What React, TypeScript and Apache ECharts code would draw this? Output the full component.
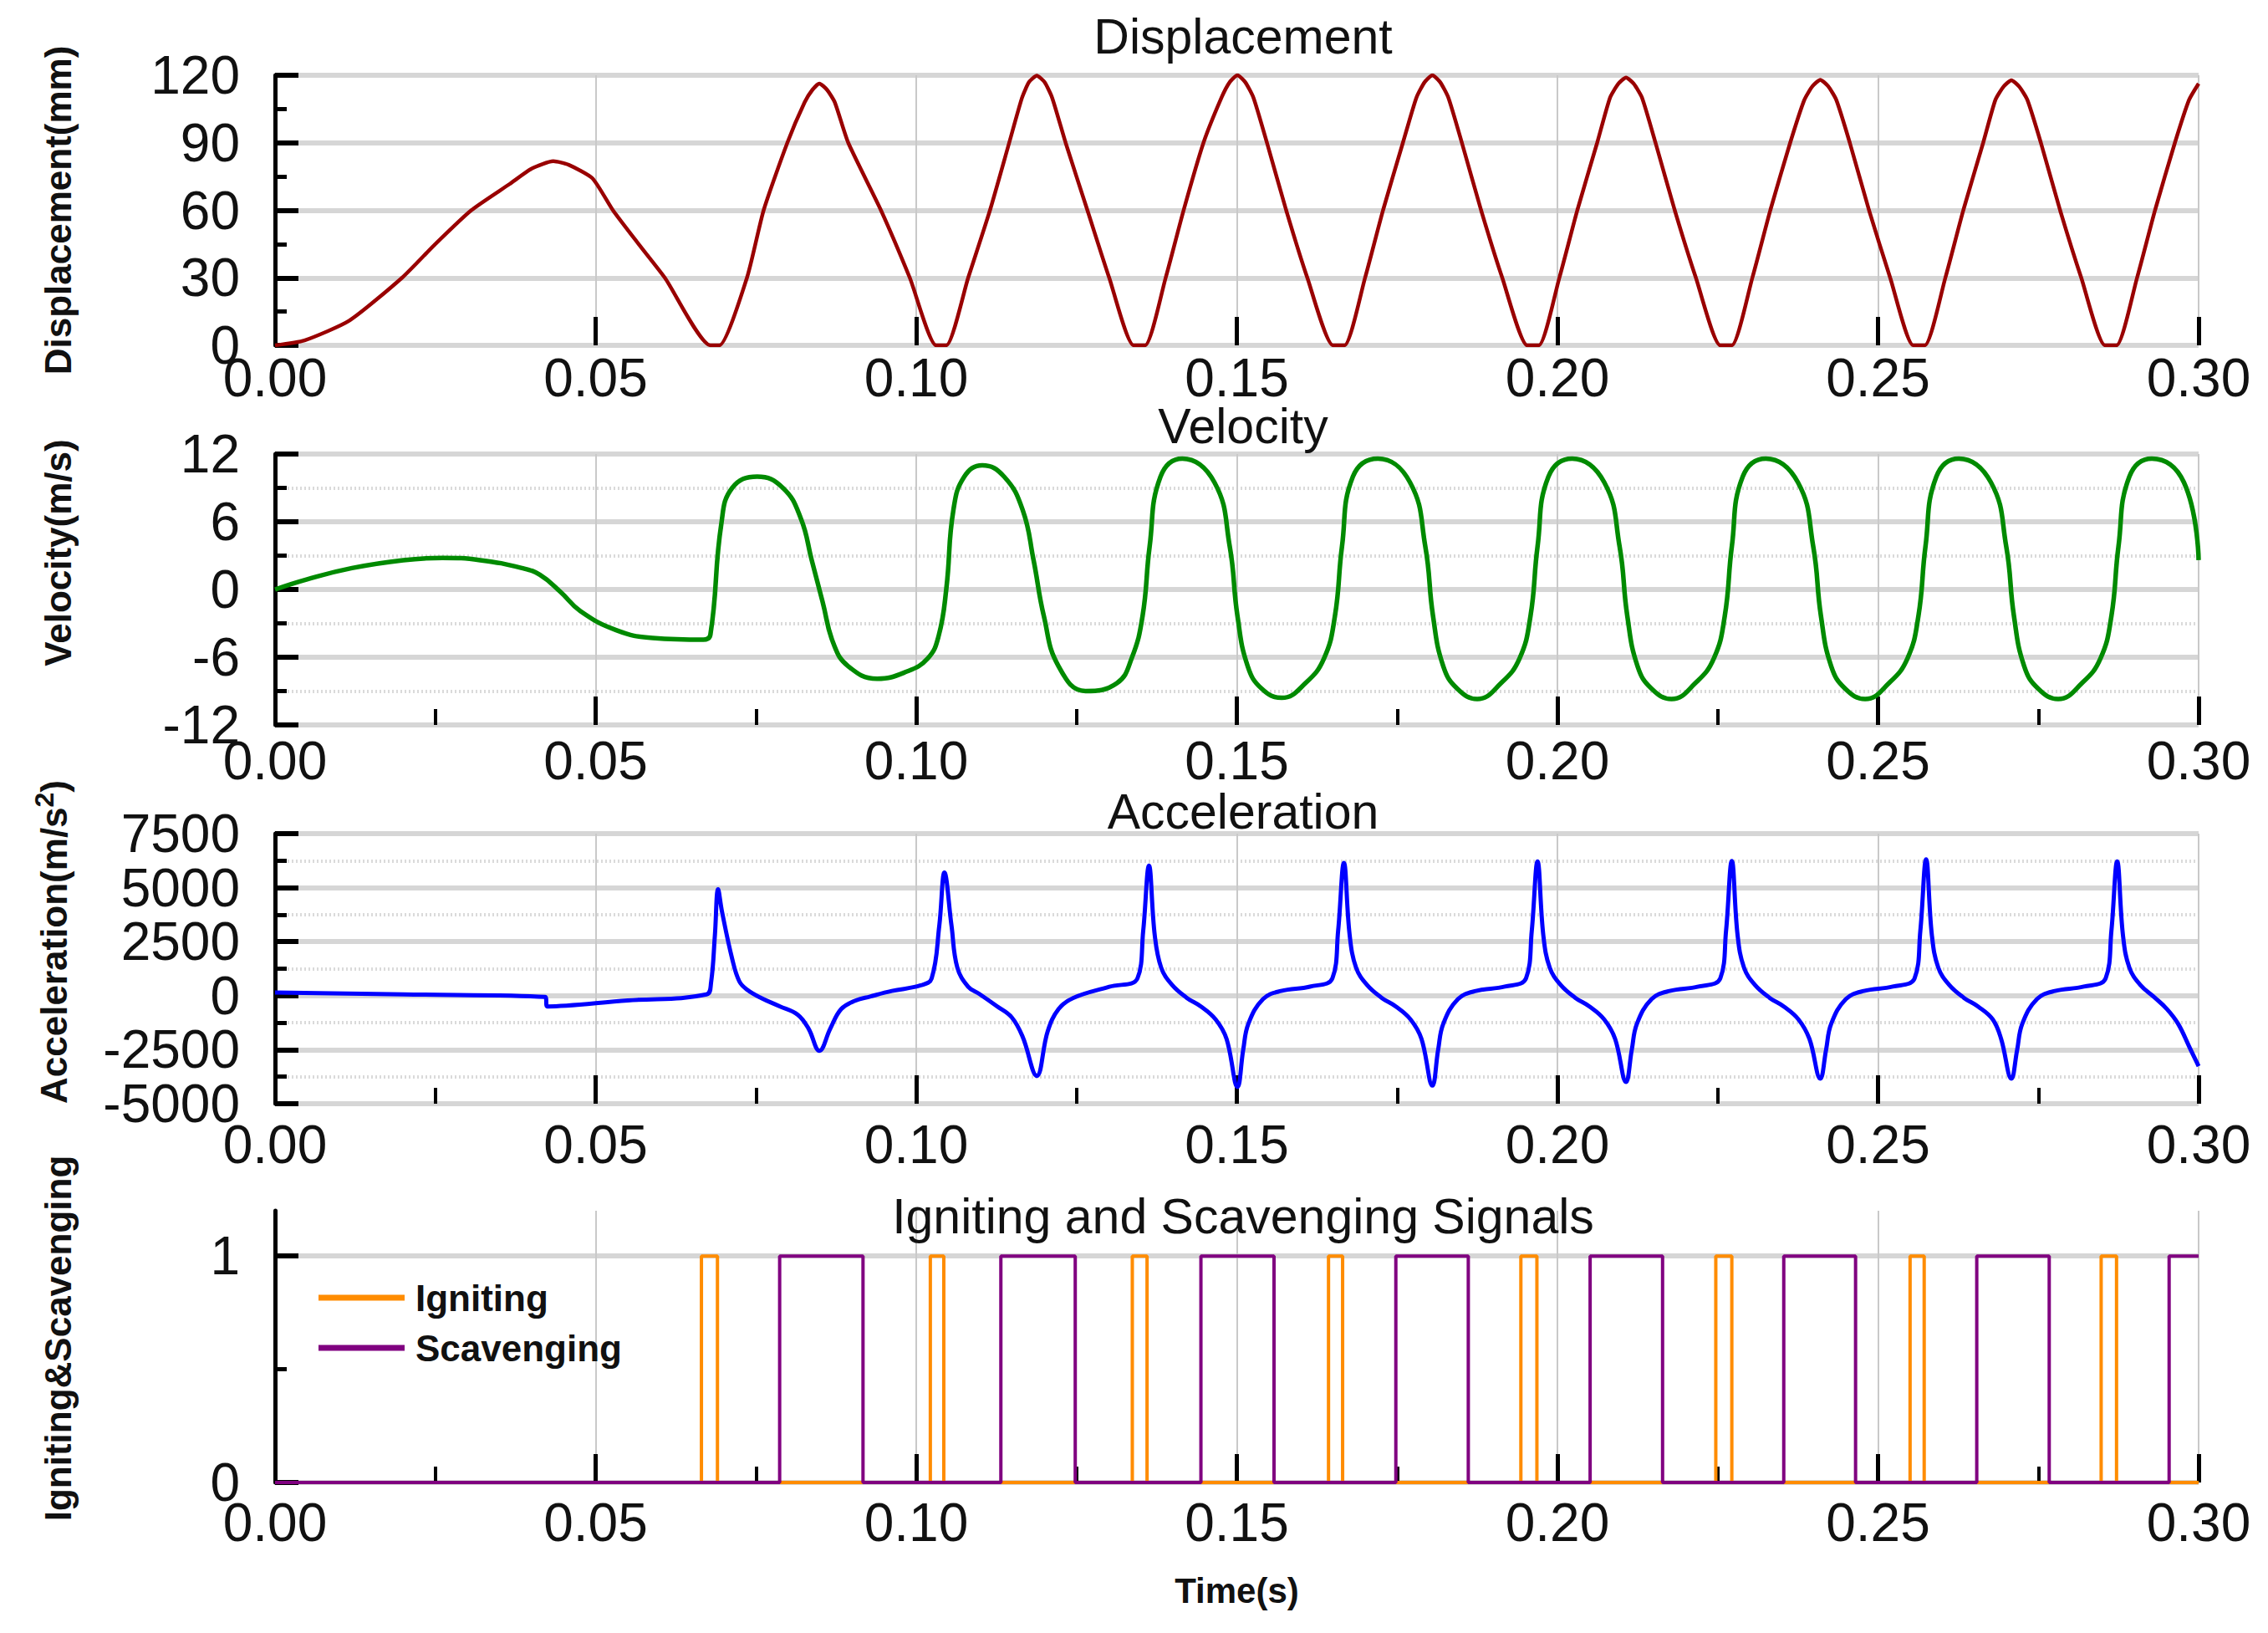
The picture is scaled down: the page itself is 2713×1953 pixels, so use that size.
import React, { useEffect, useRef } from "react";
import * as echarts from "echarts";

// ---------------- data ----------------
const timeTicks = [0, 0.05, 0.1, 0.15, 0.2, 0.25, 0.3];

const displacement: [number, number][] = [
  [0, 0], [0.0046, 2.2], [0.0116, 11], [0.0198, 30], [0.025, 45], [0.0306, 60], [0.0366, 71.7], [0.04, 78.5], [0.0434, 81.8], [0.0458, 80.2], [0.0495, 74.2], [0.0527, 60], [0.0567, 45], [0.0608, 30], [0.0679, 0], [0.0693, 0],
  [0.0736, 30], [0.0762, 60], [0.0799, 90], [0.0826, 108], [0.0838, 113.5], [0.0849, 116.3], [0.0861, 113.5], [0.0873, 108], [0.0894, 90], [0.0945, 60], [0.099, 30], [0.1031, 0], [0.1047, 0],
  [0.1081, 30], [0.1115, 60], [0.1145, 90], [0.1165, 110], [0.1176, 117], [0.1188, 119.8], [0.12, 117], [0.1212, 110], [0.1233, 90], [0.1267, 60], [0.1301, 30], [0.1339, 0], [0.1357, 0],
  [0.1389, 30], [0.1417, 60], [0.1448, 90], [0.1476, 110], [0.1489, 117], [0.1501, 120], [0.1513, 117], [0.1526, 110], [0.1547, 90], [0.1577, 60], [0.161, 30], [0.165, 0], [0.1668, 0],
  [0.17, 30], [0.1728, 60], [0.1759, 90], [0.178, 110], [0.1793, 117], [0.1805, 120], [0.1817, 117], [0.183, 110], [0.1851, 90], [0.1881, 60], [0.1914, 30], [0.1953, 0], [0.1971, 0],
  [0.2003, 30], [0.2031, 60], [0.2062, 90], [0.2082, 110], [0.2095, 116.2], [0.2107, 119], [0.2119, 116.2], [0.2132, 110], [0.2153, 90], [0.2183, 60], [0.2216, 30], [0.2254, 0], [0.2272, 0],
  [0.2304, 30], [0.2332, 60], [0.2363, 90], [0.2385, 109], [0.2398, 115.2], [0.241, 118], [0.2422, 115.2], [0.2435, 109], [0.2456, 90], [0.2486, 60], [0.2519, 30], [0.2555, 0], [0.2573, 0],
  [0.2605, 30], [0.2633, 60], [0.2664, 90], [0.2683, 109], [0.2696, 115], [0.2708, 117.8], [0.272, 115], [0.2733, 109], [0.2754, 90], [0.2784, 60], [0.2817, 30], [0.2854, 0], [0.2872, 0],
  [0.2904, 30], [0.2932, 60], [0.2963, 90], [0.2985, 109], [0.3, 116.3],
];

const velocity: [number, number][] = [
  [0, 0], [0.005, 0.9], [0.012, 1.9], [0.02, 2.6], [0.0261, 2.8], [0.032, 2.6], [0.0385, 1.9], [0.0413, 1.3], [0.0445, -0.2], [0.0476, -1.9], [0.0532, -3.6], [0.0589, -4.3], [0.0668, -4.45],
  [0.0679, -4.0], [0.0696, 5.8], [0.0713, 9.0], [0.0752, 10.0], [0.0792, 9.0], [0.082, 6.3], [0.0837, 2.6], [0.0854, -1.1], [0.0871, -4.8], [0.0894, -6.8], [0.0939, -7.9], [0.0984, -7.3], [0.1018, -6.1], [0.1035, -4.1],
  [0.1047, 0.1], [0.1058, 7.05], [0.1075, 10.0], [0.1103, 11.0], [0.1137, 10.0], [0.1166, 7.05], [0.1183, 2.6], [0.1199, -2.35], [0.1222, -6.8], [0.1264, -9.0], [0.1313, -8.3],
  [0.1336, -6.1], [0.1353, -2.35], [0.1364, 3.8], [0.1381, 10.0],
  [0.1415, 11.6], [0.1465, 9.5], [0.1489, 3.8], [0.1501, -2.35], [0.1517, -6.8], [0.1539, -8.8], [0.157, -9.6], [0.1607, -8.3], [0.1636, -6.1], [0.1653, -2.35], [0.1664, 3.8], [0.1681, 10.0],
  [0.172, 11.6], [0.177, 9.5], [0.1794, 3.8], [0.1806, -2.35], [0.1822, -6.8], [0.1844, -8.8], [0.1875, -9.7], [0.1912, -8.3], [0.1941, -6.1], [0.1958, -2.35], [0.1969, 3.8], [0.1986, 10.0],
  [0.2023, 11.6], [0.2073, 9.5], [0.2097, 3.8], [0.2109, -2.35], [0.2125, -6.8], [0.2147, -8.8], [0.2178, -9.7], [0.2215, -8.3], [0.2244, -6.1], [0.2261, -2.35], [0.2272, 3.8], [0.2289, 10.0],
  [0.2325, 11.6], [0.2375, 9.5], [0.2399, 3.8], [0.2411, -2.35], [0.2427, -6.8], [0.2449, -8.8], [0.248, -9.7], [0.2517, -8.3], [0.2546, -6.1], [0.2563, -2.35], [0.2574, 3.8], [0.2591, 10.0],
  [0.2626, 11.6], [0.2676, 9.5], [0.27, 3.8], [0.2712, -2.35], [0.2728, -6.8], [0.275, -8.8], [0.2781, -9.7], [0.2818, -8.3], [0.2847, -6.1], [0.2864, -2.35], [0.2875, 3.8], [0.2892, 10.0],
  [0.2927, 11.6], [0.2977, 9.5], [0.3, 2.6],
];

const acceleration: [number, number][] = [
  [0, 150], [0.02, 60], [0.0421, -60], [0.0425, -500], [0.055, -220], [0.0673, 60],
  [0.068, 600], [0.0686, 2800], [0.0691, 4923], [0.0697, 3900], [0.0713, 1700], [0.0724, 670], [0.0736, 284], [0.0758, -103], [0.0787, -490], [0.0815, -876], [0.0832, -1521], [0.0849, -2552],
  [0.0866, -1521], [0.0883, -619], [0.0905, -232], [0.0928, -39], [0.0962, 219], [0.1007, 477], [0.1024, 799], [0.1036, 3247], [0.1044, 5696], [0.1055, 3247], [0.1064, 1314], [0.1081, 412],
  [0.1098, 90], [0.1126, -490], [0.1149, -1005], [0.1166, -1907], [0.1188, -3711], [0.1205, -1650], [0.1222, -619], [0.1245, -103], [0.1301, 412],
  [0.1345, 800], [0.1354, 3000], [0.1363, 6018], [0.1372, 2800], [0.1382, 1300], [0.1399, 500], [0.1422, -100], [0.1444, -500], [0.1467, -1100], [0.1484, -2000], [0.1501, -4227], [0.151, -2500], [0.1518, -1300], [0.1541, -150], [0.1569, 220], [0.1614, 420],
  [0.1649, 800], [0.1658, 3000], [0.1667, 6147], [0.1676, 2800], [0.1686, 1300], [0.1703, 500], [0.1726, -100], [0.1748, -500], [0.1771, -1100], [0.1788, -2000], [0.1805, -4162], [0.1814, -2500], [0.1822, -1300], [0.1845, -150], [0.1873, 220], [0.1918, 420],
  [0.1951, 800], [0.196, 3000], [0.1969, 6211], [0.1978, 2800], [0.1988, 1300], [0.2005, 500], [0.2028, -100], [0.205, -500], [0.2073, -1100], [0.209, -2000], [0.2107, -3995], [0.2116, -2500], [0.2124, -1300], [0.2147, -150], [0.2175, 220], [0.222, 420],
  [0.2254, 800], [0.2263, 3000], [0.2272, 6237], [0.2281, 2800], [0.2291, 1300], [0.2308, 500], [0.2331, -100], [0.2353, -500], [0.2376, -1100], [0.2393, -2000], [0.241, -3840], [0.2419, -2500], [0.2427, -1300], [0.245, -150], [0.2478, 220], [0.2523, 420],
  [0.2557, 800], [0.2566, 3000], [0.2575, 6314], [0.2584, 2800], [0.2594, 1300], [0.2611, 500], [0.2634, -100], [0.2656, -500], [0.2679, -1100], [0.2692, -2000], [0.2708, -3840], [0.2717, -2500], [0.2725, -1300], [0.2748, -150], [0.2776, 220], [0.2821, 420],
  [0.2855, 800], [0.2864, 3000], [0.2873, 6211], [0.2882, 2800], [0.2892, 1300], [0.2909, 500], [0.2932, -100], [0.295, -600], [0.2968, -1300], [0.2986, -2400], [0.3, -3260],
];

const ignitingOn = [0.0665, 0.1022, 0.1337, 0.1643, 0.1943, 0.2247, 0.255, 0.2848];
const ignitingOff = [0.069, 0.1043, 0.136, 0.1665, 0.1968, 0.2272, 0.2572, 0.2872];
const scavengingOn = [0.0787, 0.1132, 0.1444, 0.1748, 0.2051, 0.2353, 0.2654, 0.2954];
const scavengingOff = [0.0917, 0.1248, 0.1558, 0.1861, 0.2164, 0.2465, 0.2767, 0.3];

const panelTitles = ["Displacement", "Velocity", "Acceleration", "Igniting and Scavenging Signals"];
const axisNames = ["Displacement(mm)", "Velocity(m/s)", "Acceleration(m/s{sup|2})", "Igniting&Scavenging"];
const seriesNames = ["Displacement", "Velocity", "Acceleration", "Igniting", "Scavenging"];

// ---------------- helpers ----------------
const T_END = timeTicks[timeTicks.length - 1];
function pulseTrain(on: number[], off: number[]): [number, number][] {
  const d: [number, number][] = [[0, 0]];
  on.forEach((t, i) => {
    d.push([t, 0], [t, 1]);
    if (off[i] >= T_END) {
      d.push([T_END, 1]);
    } else {
      d.push([off[i], 1], [off[i], 0]);
    }
  });
  if (d[d.length - 1][0] < T_END) d.push([T_END, 0]);
  return d;
}

const FONT = "'Liberation Sans', Arial, Helvetica, sans-serif";
const INK = "#111";

const grids = [
  { left: 329, right: 83, top: 90, height: 323 },
  { left: 329, right: 83, top: 543, height: 324 },
  { left: 329, right: 83, top: 997, height: 323 },
  { left: 329, right: 83, top: 1448, height: 325 },
];

const xLabelMargins = [7, 11, 17, 16];

function makeXAxis(i: number, minor: boolean, extra: any = {}) {
  return {
    type: "value",
    gridIndex: i,
    min: 0,
    max: T_END,
    interval: 0.05,
    axisLine: {
      show: true,
      onZero: false,
      lineStyle: { color: "#000", width: 5, shadowColor: "rgba(0,0,0,0.35)", shadowOffsetY: 4, shadowBlur: 0 },
    },
    axisTick: { show: true, inside: true, length: 34, lineStyle: { color: "#000", width: 5 } },
    minorTick: { show: minor, splitNumber: 2, length: 19, lineStyle: { color: "#000", width: 4 } },
    splitLine: { show: true, lineStyle: { color: "#c9c9c9", width: 2 } },
    axisLabel: {
      fontSize: 64,
      color: INK,
      fontFamily: FONT,
      margin: xLabelMargins[i],
      formatter: (v: number) => v.toFixed(2),
    },
    ...extra,
  };
}

function makeYAxis(i: number, min: number, max: number, interval: number, minorDotted: boolean, extra: any = {}) {
  return {
    type: "value",
    gridIndex: i,
    position: "left",
    min,
    max,
    interval,
    name: axisNames[i],
    nameLocation: "middle",
    nameGap: 238,
    nameRotate: 90,
    nameTextStyle: {
      fontSize: 44,
      fontWeight: "bold",
      fontFamily: FONT,
      color: INK,
    },
    axisLine: { show: true, onZero: false, lineStyle: { color: "#000", width: 5 } },
    axisTick: { show: true, inside: true, length: 28, lineStyle: { color: "#000", width: 6 } },
    minorTick: { show: true, splitNumber: 2, length: 14, lineStyle: { color: "#000", width: 5 } },
    splitLine: { show: true, lineStyle: { color: "#d6d6d6", width: 6 } },
    minorSplitLine: { show: minorDotted, lineStyle: { color: "#dadada", width: 4, type: [2, 3] } },
    axisLabel: { fontSize: 64, color: INK, fontFamily: FONT, margin: 42, formatter: (v: number) => String(v) },
    ...extra,
  };
}

const titleTops = [9, 475, 936, 1420];

const option: any = {
  animation: false,
  backgroundColor: "#fff",
  textStyle: { fontFamily: FONT },
  title: panelTitles.map((t, i) => ({
    text: t,
    left: 1482,
    top: titleTops[i],
    textAlign: "center",
    textStyle: { fontSize: 59, fontWeight: "normal", fontFamily: FONT, color: INK },
  })),
  legend: {
    data: [
      { name: seriesNames[3], icon: "rect" },
      { name: seriesNames[4], icon: "rect" },
    ],
    orient: "vertical",
    left: 381,
    top: 1530,
    padding: 0,
    itemWidth: 103,
    itemHeight: 7,
    itemGap: 16,
    selectedMode: false,
    textStyle: { fontSize: 44, fontWeight: "bold", fontFamily: FONT, color: INK, lineHeight: 44, padding: [0, 0, 0, 8] },
  },
  grid: grids,
  xAxis: [
    makeXAxis(0, false),
    makeXAxis(1, true),
    makeXAxis(2, true),
    makeXAxis(3, true, {
      name: "Time(s)",
      nameLocation: "middle",
      nameGap: 108,
      nameTextStyle: { fontSize: 42, fontWeight: "bold", fontFamily: FONT, color: INK },
    }),
  ],
  yAxis: [
    makeYAxis(0, 0, 120, 30, false),
    makeYAxis(1, -12, 12, 6, true, {
      nameTextStyle: { fontSize: 44, fontWeight: "bold", fontFamily: FONT, color: INK, padding: [0, 0, 0, 88] },
    }),
    makeYAxis(2, -5000, 7500, 2500, true, {
      nameTextStyle: {
        fontSize: 44,
        fontWeight: "bold",
        fontFamily: FONT,
        color: INK,
        padding: [0, 0, 0, 64],
        rich: { sup: { fontSize: 32, fontWeight: "bold", fontFamily: FONT, color: INK, padding: [0, 0, 22, 0] } },
      },
    }),
    makeYAxis(3, 0, 1.2, 1, false, {
      nameTextStyle: { fontSize: 44, fontWeight: "bold", fontFamily: FONT, color: INK, padding: [0, 0, 0, 20] },
      axisTick: { show: true, inside: true, length: 28, customValues: [0, 1], lineStyle: { color: "#000", width: 6 } },
      axisLabel: { fontSize: 64, color: INK, fontFamily: FONT, margin: 42, customValues: [0, 1], formatter: (v: number) => String(v) },
      minorTick: { show: false },
    }),
    {
      type: "value",
      gridIndex: 3,
      position: "left",
      min: 0,
      max: 1.2,
      interval: 0.5,
      axisLine: { show: false },
      axisLabel: { show: false },
      splitLine: { show: false },
      axisTick: { show: true, inside: true, length: 14, customValues: [0.5], lineStyle: { color: "#000", width: 5 } },
    },
  ],
  series: [
    {
      type: "line", name: seriesNames[0], xAxisIndex: 0, yAxisIndex: 0, data: displacement,
      symbol: "none", showSymbol: false, smooth: 0.2,
      lineStyle: { color: "#990000", width: 4.5 },
    },
    {
      type: "line", name: seriesNames[1], xAxisIndex: 1, yAxisIndex: 1, data: velocity,
      symbol: "none", showSymbol: false, smooth: 0.45,
      lineStyle: { color: "#008a00", width: 5.5 },
    },
    {
      type: "line", name: seriesNames[2], xAxisIndex: 2, yAxisIndex: 2, data: acceleration,
      symbol: "none", showSymbol: false, smooth: 0.4,
      lineStyle: { color: "#0000ff", width: 5 },
    },
    {
      type: "line", name: seriesNames[3], xAxisIndex: 3, yAxisIndex: 3, data: pulseTrain(ignitingOn, ignitingOff),
      symbol: "none", showSymbol: false, itemStyle: { color: "#ff8c00" },
      lineStyle: { color: "#ff8c00", width: 4 },
    },
    {
      type: "line", name: seriesNames[4], xAxisIndex: 3, yAxisIndex: 3, data: pulseTrain(scavengingOn, scavengingOff),
      symbol: "none", showSymbol: false, itemStyle: { color: "#800080" },
      lineStyle: { color: "#800080", width: 4 },
    },
  ],
};

export default function App() {
  const ref = useRef<HTMLDivElement>(null);
  useEffect(() => {
    if (!ref.current) return;
    const chart = echarts.init(ref.current, null, { renderer: "svg" });
    chart.setOption(option);
    return () => chart.dispose();
  }, []);
  return (
    <div
      ref={ref}
      style={{ position: "fixed", left: 0, top: 0, width: 2713, height: 1953, background: "#fff" }}
    />
  );
}
